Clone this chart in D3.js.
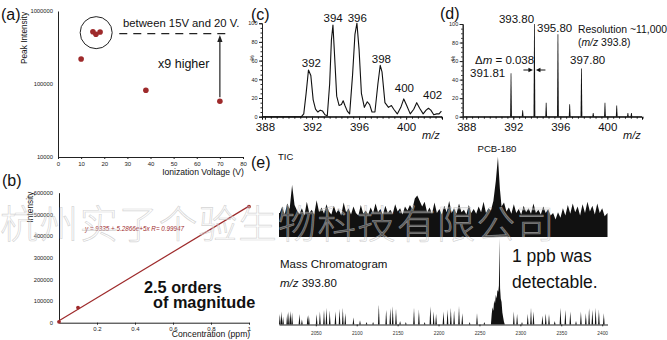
<!DOCTYPE html>
<html><head><meta charset="utf-8">
<script src="https://cdn.jsdelivr.net/npm/d3@7"></script>
<style>
html,body{margin:0;padding:0;background:#fff;}
svg{display:block;font-family:"Liberation Sans",Arial,Helvetica,sans-serif;}
</style></head>
<body><svg id="c" width="667" height="340"></svg>
<script>
// ---------- DATA ----------
// (a) peak intensity vs ionization voltage
const aVolt = [10, 15.1, 16.4, 18.2, 38, 70];
const aIntensity = [220000, 520000, 480000, 515000, 82000, 58000];
const aXTicks = [0, 10, 20, 30, 40, 50, 60, 70, 80];
const aYTicks = [10000, 100000, 1000000];
// (b) calibration
const bConc = [0, 0.1, 1];
const bIntensity = [4000, 70000, 536000];
const bFit = [9335, 5.2866e5];
const bXTicks = [0.2, 0.4, 0.6, 0.8, 1];
const bYTicks = [0, 100000, 200000, 300000, 400000, 500000, 600000];
// (c) low-resolution isotope profile
const cMz = [387.75, 391.1, 391.3, 391.5, 391.7, 391.9, 392.1, 392.3, 392.5, 392.7, 392.9, 393.1, 393.3, 393.5, 393.65, 393.78, 393.9, 394.1, 394.3, 394.5, 394.65, 394.8, 395.0, 395.2, 395.45, 395.65, 395.82, 396.0, 396.2, 396.45, 396.7, 396.9, 397.1, 397.35, 397.6, 397.8, 397.95, 398.2, 398.5, 398.75, 398.95, 399.25, 399.55, 399.8, 400.05, 400.35, 400.65, 400.9, 401.15, 401.45, 401.7, 401.9, 402.1, 402.35, 402.6, 402.8, 403.0];
const cInt = [0, 0, 3, 25, 50, 44, 18, 8, 5, 7, 6, 2, 1, 35, 82, 98, 70, 22, 12, 13, 17, 12, 6, 3, 45, 88, 100, 72, 25, 10, 16, 13, 5, 5, 35, 55, 48, 15, 10, 12, 8, 3, 10, 19, 12, 3, 8, 15, 9, 3, 7, 9, 7, 2, 3, 3, 6];
const cLabels = [392, 394, 396, 398, 400, 402];
const cLabelMz = [391.95, 393.8, 395.85, 397.9, 399.85, 402.25];
const cLabelInt = [53, 101, 101, 57, 26, 19];
// (d) high-resolution sticks
const dMz = [391.81, 392.8, 393.80, 394.8, 395.80, 396.8, 397.80, 398.8, 399.8, 400.8, 401.75, 402.05];
const dInt = [47, 7, 100, 15, 89, 13.5, 52, 4, 15, 12, 4, 4];
const mzTicks = [388, 392, 396, 400];
const pctTicks = [0, 20, 40, 60, 80, 100];
// (e) TIC [retention time, relative intensity]
const ticData = [[2005,30],[2006,30],[2009,38],[2012,28],[2015,42],[2018,35],[2021,65],[2024,40],[2027,33],[2030,29],[2033,36],[2036,27],[2039,44],[2042,30],[2045,34],[2048,28],[2051,46],[2054,31],[2057,37],[2060,29],[2063,41],[2066,32],[2069,28],[2072,39],[2075,30],[2078,35],[2081,27],[2084,43],[2087,31],[2090,36],[2093,28],[2096,38],[2099,30],[2102,27],[2105,40],[2108,29],[2111,33],[2114,28],[2117,37],[2120,30],[2123,42],[2126,31],[2129,35],[2132,28],[2135,39],[2138,30],[2141,34],[2144,29],[2147,41],[2150,32],[2153,36],[2156,28],[2159,38],[2162,33],[2165,40],[2168,35],[2171,48],[2174,52],[2177,45],[2180,38],[2183,44],[2186,31],[2189,37],[2192,29],[2195,43],[2198,30],[2201,35],[2204,28],[2207,39],[2210,31],[2213,45],[2216,30],[2219,36],[2222,29],[2225,42],[2228,31],[2231,34],[2234,28],[2237,40],[2240,30],[2243,35],[2246,29],[2249,38],[2252,31],[2255,44],[2258,30],[2261,36],[2264,33],[2267,45],[2270,70],[2272.6,100],[2275,60],[2277,38],[2280,43],[2283,32],[2286,37],[2289,29],[2292,41],[2295,30],[2298,35],[2301,28],[2304,39],[2307,31],[2310,36],[2313,29],[2316,42],[2319,30],[2322,34],[2325,28],[2328,38],[2331,30],[2334,35],[2337,27],[2340,30],[2343,22],[2346,31],[2349,24],[2352,36],[2355,27],[2358,40],[2361,29],[2364,42],[2367,31],[2370,38],[2373,27],[2376,41],[2379,30],[2382,44],[2385,32],[2388,39],[2391,28],[2394,42],[2397,30],[2400,36],[2403,26],[2406.5,30]];
// (e) mass chromatogram m/z 393.80
const chromSpikes = [[2006,12],[2008,15],[2010,9],[2015,13],[2017,15],[2019,16],[2021,14],[2030,12],[2033,6],[2040,10],[2041.5,11],[2051,12],[2055,15],[2060,17],[2063,19],[2067,16],[2074,15],[2079,18],[2083,19],[2086,13],[2096,8],[2104,5],[2112,3],[2120,3],[2127,23],[2136,17],[2141,19],[2144,21],[2148,18],[2153,4],[2160,3],[2170,19],[2176,17],[2183,3],[2190,21],[2194,15],[2197,12],[2206,15],[2211,17],[2215,19],[2219,16],[2225,21],[2229,13],[2238,3],[2247,13],[2256,3],[2292,15],[2296,12],[2302,3],[2309,12],[2313,19],[2316,15],[2327,10],[2331,13],[2335,12],[2342,4],[2349,19],[2355,17],[2361,15],[2368,4],[2374,15],[2380,13],[2384,19],[2388,17],[2392,19],[2396,17],[2402,13]];
const chromMain = [[2264,0],[2265,12],[2266,20],[2267,16],[2268,28],[2269,24],[2270,34],[2271,30],[2272,40],[2273,38],[2273.8,45],[2274.5,100],[2275.2,42],[2276,30],[2277,26],[2278,14],[2279,8],[2280,3],[2281,0]];
const eTicks = [2050, 2100, 2150, 2200, 2250, 2300, 2350, 2400];

// ---------- DRAW ----------
const svg = d3.select("#c");
svg.append("rect").attr("width",667).attr("height",340).attr("fill","#fff");
const RED = "#9e2a2b";
const FONT = "'Liberation Sans',Arial,sans-serif";

function styleAxis(g, fs, col){
  g.selectAll("text").attr("font-size", fs).attr("font-family", FONT).attr("fill", col||"#222");
  g.selectAll("line").attr("stroke","#222");
  g.select(".domain").attr("stroke","#222");
}
function txt(x,y,s,fs,opt){
  opt = opt||{};
  return svg.append("text").attr("x",x).attr("y",y).text(s)
    .attr("font-size",fs).attr("font-family",FONT)
    .attr("font-weight",opt.w||"normal").attr("font-style",opt.i?"italic":"normal")
    .attr("fill",opt.c||"#111").attr("text-anchor",opt.a||"start");
}

// ===== (a) =====
const aX = d3.scaleLinear().domain([0,80]).range([58,243]);
const aY = d3.scaleLog().domain([1e4,1e6]).range([157,11]);
styleAxis(svg.append("g").attr("transform","translate(0,157)")
  .call(d3.axisBottom(aX).tickValues(aXTicks).tickSize(2).tickSizeOuter(0).tickPadding(3)), 6);
styleAxis(svg.append("g").attr("transform","translate(58,0)")
  .call(d3.axisLeft(aY).tickValues(aYTicks).tickSize(0).tickPadding(5).tickFormat(d3.format("d"))), 5.8);
svg.append("g").selectAll("circle").data(aVolt).join("circle")
  .attr("cx",(d)=>aX(d)).attr("cy",(d,i)=>aY(aIntensity[i])).attr("r",2.8).attr("fill",RED);
svg.append("circle").attr("cx",aX(16.5)).attr("cy",aY(505000)).attr("r",16)
  .attr("fill","none").attr("stroke","#222").attr("stroke-width",1);
svg.append("line").attr("x1",aX(26.5)).attr("x2",aX(74.5)).attr("y1",aY(490000)).attr("y2",aY(490000))
  .attr("stroke","#222").attr("stroke-width",1.3).attr("stroke-dasharray","8,6");
txt(123,27,"between 15V and 20 V.",11.3);
txt(158,68,"x9 higher",12.5);
svg.append("line").attr("x1",aX(70)).attr("x2",aX(70)).attr("y1",aY(66000)).attr("y2",aY(430000))
  .attr("stroke","#222").attr("stroke-width",1.2);
svg.append("path").attr("d",`M${aX(70)},${aY(470000)} l-2.6,7 l5.2,0 Z`).attr("fill","#222");
txt(1,20,"(a)",16);
txt(0,0,"Peak Intensity",8.3,{a:"middle"}).attr("transform","translate(27,38) rotate(-90)");
txt(203,175,"Ionization Voltage (V)",8.6,{a:"middle"});

// ===== (b) =====
const bX = d3.scaleLinear().domain([0,1]).range([59,249]);
const bY = d3.scaleLinear().domain([0,600000]).range([322.7,192.7]);
styleAxis(svg.append("g").attr("transform","translate(0,322.7)")
  .call(d3.axisBottom(bX).tickValues(bXTicks).tickSize(2).tickSizeOuter(0).tickPadding(2).tickFormat(d3.format("~g"))), 6);
styleAxis(svg.append("g").attr("transform","translate(59,0)")
  .call(d3.axisLeft(bY).tickValues(bYTicks).tickSize(0).tickPadding(6).tickFormat(d3.format("d"))), 5.8);
svg.append("line").attr("x1",bX(0)).attr("x2",bX(1))
  .attr("y1",bY(bFit[0])).attr("y2",bY(bFit[0]+bFit[1]))
  .attr("stroke",RED).attr("stroke-width",1.2);
svg.append("g").selectAll("circle").data(bConc).join("circle")
  .attr("cx",d=>bX(d)).attr("cy",(d,i)=>bY(bIntensity[i])).attr("r",1.9).attr("fill",RED);
txt(85,231,"y = 9335 + 5.2866e+5x    R= 0.99947",6.3,{i:true,c:RED});
txt(2,186,"(b)",16);
txt(0,0,"Intensity",8.3,{a:"middle"}).attr("transform","translate(33,207) rotate(-90)");
txt(211,337,"Concentration (ppm)",8.6,{a:"middle"});
txt(144,293,"2.5 orders",16.3,{w:"bold"});
txt(153,308,"of magnitude",16.3,{w:"bold"});

// ===== (c) =====
const cX = d3.scaleLinear().domain([387.75,403.05]).range([262,442]);
const cY = d3.scaleLinear().domain([0,100]).range([116.7,23.2]);
function specAxes(xs, ys, x0){
  const gx = svg.append("g").attr("transform","translate(0,116.7)");
  gx.call(d3.axisBottom(xs).tickValues(d3.range(388,403.01,0.5)).tickSize(2).tickSizeOuter(0).tickFormat(""));
  gx.append("g").call(d3.axisBottom(xs).tickValues(mzTicks).tickSize(3).tickPadding(3).tickFormat(d3.format("d")));
  styleAxis(gx, 11.5, "#111");
  gx.select(".domain").remove();
  svg.append("line").attr("x1",xs.range()[0]).attr("x2",xs.range()[1]).attr("y1",116.7).attr("y2",116.7).attr("stroke","#222");
  const gy = svg.append("g").attr("transform",`translate(${x0},0)`);
  gy.call(d3.axisLeft(ys).tickValues(d3.range(0,100.1,5)).tickSize(1.5).tickSizeOuter(0).tickFormat(""));
  gy.append("g").call(d3.axisLeft(ys).tickValues(pctTicks).tickSize(3).tickPadding(1.5).tickFormat(d3.format("d")));
  styleAxis(gy, 5.5, "#222");
  gy.selectAll(".domain").attr("stroke","#222");
  txt(0,0,"%",6,{a:"middle"}).attr("transform",`translate(${x0-8},${ys(63)}) rotate(-90)`);
}
specAxes(cX, cY, 262);
svg.append("path").datum(cMz).attr("fill","none").attr("stroke","#111").attr("stroke-width",1.1)
  .attr("stroke-linejoin","round")
  .attr("d", d3.line().x(d=>cX(d)).y((d,i)=>cY(cInt[i])));
svg.append("g").selectAll("text").data(cLabels).join("text")
  .attr("x",(d,i)=>cX(cLabelMz[i])).attr("y",(d,i)=>cY(cLabelInt[i])).text(d=>d)
  .attr("text-anchor","middle").attr("font-size",11.5).attr("font-family",FONT).attr("fill","#111");
txt(422,139,"m/z",11,{i:true});
txt(251,20,"(c)",16);

// ===== (d) =====
const dX = d3.scaleLinear().domain([387.7,402.95]).range([462.7,642]);
const dY = d3.scaleLinear().domain([0,100]).range([116.7,24]);
specAxes(dX, dY, 462.7);
svg.append("g").selectAll("path").data(dMz).join("path")
  .attr("d",(d,i)=>`M${dX(d)-0.9},${dY(0)} L${dX(d)-0.35},${dY(dInt[i])} L${dX(d)+0.35},${dY(dInt[i])} L${dX(d)+0.9},${dY(0)} Z`)
  .attr("fill","#111");
txt(516.5,23,"393.80",11.5,{a:"middle"});
txt(537,31.5,"395.80",11.5);
txt(570,64,"397.80",11.5);
txt(470,77,"391.81",11.5);
const dm = txt(475,64,"",11.5);
dm.append("tspan").text("\u0394");
dm.append("tspan").attr("font-style","italic").text("m");
dm.append("tspan").text(" = 0.038");
txt(578,33,"Resolution ~11,000",10.4);
const rz = txt(578,46,"(",10.4);
rz.append("tspan").attr("font-style","italic").text("m/z");
rz.append("tspan").text(" 393.8)");
const pk = dX(393.8), ay = 70;
svg.append("line").attr("x1",pk-11).attr("x2",pk-4).attr("y1",ay).attr("y2",ay).attr("stroke","#111").attr("stroke-width",1);
svg.append("path").attr("d",`M${pk-1.5},${ay} l-4.5,-2.2 l0,4.4 Z`).attr("fill","#111");
svg.append("line").attr("x1",pk+11).attr("x2",pk+4).attr("y1",ay).attr("y2",ay).attr("stroke","#111").attr("stroke-width",1);
svg.append("path").attr("d",`M${pk+1.5},${ay} l4.5,-2.2 l0,4.4 Z`).attr("fill","#111");
txt(623,139,"m/z",11,{i:true});
txt(440,19,"(d)",16);

// ===== (e) =====
const eX = d3.scaleLinear().domain([2005,2406.5]).range([279,607.5]);
const ticY = d3.scaleLinear().domain([0,100]).range([237,157]);
const chY = d3.scaleLinear().domain([0,100]).range([324.5,238]);
svg.append("path").datum(ticData).attr("fill","#111")
  .attr("d", d3.area().x(d=>eX(d[0])).y0(ticY(0)).y1(d=>ticY(d[1])));
svg.append("g").selectAll("path").data(chromSpikes).join("path")
  .attr("d",d=>`M${eX(d[0])-0.8},${chY(0)} L${eX(d[0])},${chY(d[1])} L${eX(d[0])+0.8},${chY(0)} Z`)
  .attr("fill","#111");
svg.append("path").datum(chromMain).attr("fill","#111")
  .attr("d", d3.area().x(d=>eX(d[0])).y0(chY(0)).y1(d=>chY(d[1])));
const ge = svg.append("g").attr("transform","translate(0,324.5)")
  .call(d3.axisBottom(eX).tickValues(eTicks).tickSize(1.8).tickSizeOuter(0).tickPadding(5).tickFormat(d3.format("d")));
styleAxis(ge, 4.8, "#333");
ge.select(".domain").attr("stroke-width",1.2);
txt(251,168,"(e)",16);
txt(278,160,"TIC",9.5);
txt(497,152,"PCB-180",9.6,{a:"middle"});
txt(280,268,"Mass Chromatogram",11.5);
const mz2 = txt(280,287,"",11.5);
mz2.append("tspan").attr("font-style","italic").text("m/z");
mz2.append("tspan").text(" 393.80");
txt(512,262,"1 ppb was",17.5);
txt(512,288,"detectable.",17.5);

// watermark (outlined light-grey glyphs)
svg.append("text").attr("x",0).attr("y",238).text("杭州实了个验生物科技有限公司")
  .attr("font-family","'Noto Sans CJK SC',sans-serif").attr("font-size",38.5).attr("font-weight",300)
  .attr("fill","#ffffff").attr("fill-opacity",0.3)
  .attr("stroke","#b8b8b8").attr("stroke-opacity",0.6).attr("stroke-width",0.7)
  .attr("letter-spacing",1.2);
</script></body></html>
